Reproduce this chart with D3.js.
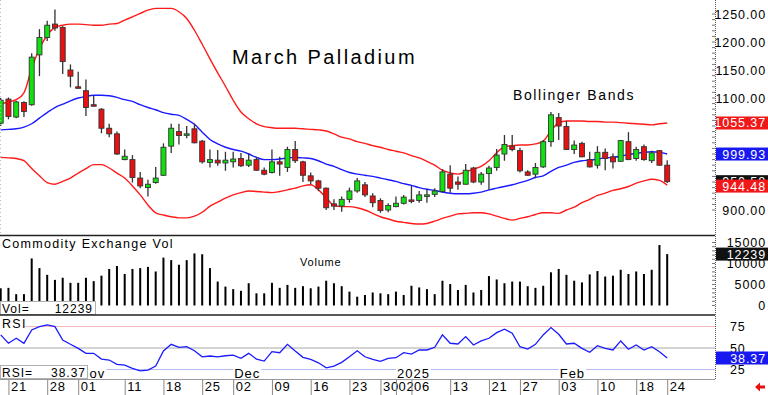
<!DOCTYPE html>
<html>
<head>
<meta charset="utf-8">
<script src="https://cdnjs.cloudflare.com/ajax/libs/d3/7.8.5/d3.min.js"></script>
<style>
  body { margin: 0; background: #fff; }
  svg { display: block; font-family: "Liberation Sans", Arial, sans-serif; }
</style>
</head>
<body>
<svg id="chart" width="768" height="395"></svg>
<script>
// trading days shown on the chart
var dates = [
  "2024-10-18","2024-10-21","2024-10-22","2024-10-23","2024-10-24","2024-10-25",
  "2024-10-28","2024-10-29","2024-10-30","2024-10-31","2024-11-01",
  "2024-11-04","2024-11-05","2024-11-06","2024-11-07","2024-11-08",
  "2024-11-11","2024-11-12","2024-11-13","2024-11-14","2024-11-15",
  "2024-11-18","2024-11-19","2024-11-20","2024-11-21","2024-11-22",
  "2024-11-25","2024-11-26","2024-11-27","2024-11-29",
  "2024-12-02","2024-12-03","2024-12-04","2024-12-05","2024-12-06",
  "2024-12-09","2024-12-10","2024-12-11","2024-12-12","2024-12-13",
  "2024-12-16","2024-12-17","2024-12-18","2024-12-19","2024-12-20",
  "2024-12-23","2024-12-24","2024-12-26","2024-12-27","2024-12-30","2024-12-31",
  "2025-01-02","2025-01-03","2025-01-06","2025-01-07","2025-01-08","2025-01-09","2025-01-10",
  "2025-01-13","2025-01-14","2025-01-15","2025-01-16","2025-01-17",
  "2025-01-21","2025-01-22","2025-01-23","2025-01-24",
  "2025-01-27","2025-01-28","2025-01-29","2025-01-30","2025-01-31",
  "2025-02-03","2025-02-04","2025-02-05","2025-02-06","2025-02-07",
  "2025-02-10","2025-02-11","2025-02-12","2025-02-13","2025-02-14",
  "2025-02-18","2025-02-19","2025-02-20","2025-02-21","2025-02-24"
];

var open  = [1055,1098,1066,1092,1088,1177,1208,1232,1226,1150,1120,1113,1088,1080,1046,1036,990,990,957,940,
             949,962,1014,1040,1035,1045,1023,985,989,984,986,992,980,990,971,967,986,976,1008,986,
             961,952,939,911,907,919,934,945,925,917,900,906,912,918,917,925,928,933,964,950,
             946,975,950,965,976,1000,1014,1006,968,964,977,1022,1065,1049,1008,1019,990,980,1003,995,
             987,1022,992,1013,988,1006,980];
var high  = [1100,1101,1095,1094,1180,1223,1238,1258,1228,1160,1147,1133,1104,1082,1054,1040,1008,998,968,954,
             977,1019,1054,1054,1050,1054,1025,1008,1007,1004,1004,1002,1001,995,976,1008,995,1013,1023,988,
             967,954,940,919,924,940,957,950,930,921,912,924,927,943,934,937,939,973,980,960,
             982,977,968,979,1009,1034,1034,1011,971,984,1025,1075,1073,1059,1024,1022,1004,1014,1010,1001,
             1025,1039,1013,1017,1006,1007,989];
var low   = [1050,1062,1064,1066,1086,1139,1202,1220,1143,1119,1117,1068,1085,1037,1030,998,989,949,939,924,
             947,961,1002,1017,1028,1019,983,976,979,970,976,977,977,970,962,965,961,968,984,950,
             946,934,900,900,897,913,931,923,905,895,896,905,910,912,913,913,923,931,931,936,
             945,948,945,936,970,988,1005,967,961,957,975,1013,1025,1007,1000,994,976,974,971,974,
             986,989,988,988,984,979,948];
var close = [1096,1067,1093,1076,1173,1208,1230,1225,1165,1139,1118,1083,1086,1046,1036,1000,996,958,943,946,
             957,1012,1046,1033,1036,1020,986,990,984,989,991,979,989,971,964,986,982,1008,988,962,
             952,939,904,907,919,934,952,927,913,899,908,912,923,916,927,927,934,968,939,946,
             971,950,964,975,998,1017,1008,970,962,976,1022,1070,1050,1008,1016,995,977,1003,992,986,
             1024,990,1008,990,1002,980,950.58];

var bbUpper = [1089,1093,1097,1109,1153,1188,1212,1226,1230,1232,1232,1231,1230,1230,1232,1233,1239,1245,1251,1257,
               1260,1260,1260,1254,1242,1221,1196,1170,1145,1121,1096,1075,1063,1054,1049,1047,1046,1046,1046,1045,
               1044,1043,1041,1036,1030,1027,1022,1019,1015,1012,1008,1005,1002,997,993,987,980,971,966,964,
               968,973,978,988,1002,1013,1015,1016,1016,1018,1023,1041,1056,1059,1059,1059,1058,1058,1057,1057,
               1056,1055,1054,1053,1052,1054,1055.37];
var bbMid   = [1043,1044,1045,1048,1054,1064,1074,1083,1089,1095,1100,1103,1105,1105,1104,1101,1097,1094,1088,1083,
               1079,1074,1071,1069,1062,1053,1039,1026,1018,1012,1008,1005,1000,994,990,990,991,993,994,993,
               992,988,982,978,972,967,964,962,960,957,954,951,947,944,940,937,935,932,930,929,
               929,930,932,936,939,942,945,949,953,958,961,969,976,980,985,988,989,991,993,994,
               996,999,1001,1003,1004,1003,999.93];
var bbLower = [994,993,992,988,974,961,949,946,951,957,966,974,981,981,975,966,957,943,927,909,
               895,891,888,886,886,889,896,907,914,921,927,931,934,933,932,931,933,936,939,943,
               945,936,922,908,906,906,904,900,894,888,884,880,878,876,875,876,880,885,889,893,
               894,895,895,893,889,885,882,885,888,892,895,895,894,900,905,913,919,926,930,935,
               938,942,948,952,955,953,944.48];

var volume = [4100,4200,2700,2700,11200,8900,7300,6100,6600,5400,5400,6600,5800,7100,8700,9400,7500,8700,8900,9200,
              8100,11400,10800,9700,10800,12400,12200,8900,5700,4500,3900,3500,5300,2900,2900,5400,4200,4900,4200,4600,
              4100,4500,5900,5300,4600,3300,2100,2500,3100,2900,2700,3300,2500,4700,4300,3900,2700,5900,5100,3700,
              4900,3100,3700,7000,6200,5300,5700,5700,4600,4200,4700,7900,8700,7300,5900,5500,7400,8200,6900,7100,
              8500,7500,8100,7500,8500,14400,12239];

var rsi = [65.2,55.5,61.3,55.5,71,74.9,76.9,74.9,59.3,54.3,49.6,43.8,43.8,37.1,36,31,30.1,26.3,23.5,24.3,
           29,46.5,54.3,50.8,51.5,46.8,39.8,40.7,39.8,41,41.8,38,43.8,37.1,34.8,45.7,44.5,54.3,46.5,39.1,
           36.8,32.8,27,29,33.3,39.8,46.8,39.8,36.8,34.5,38,38.7,44.5,43,47.7,47.7,50.8,65.2,55.5,54.7,
           63.2,53.5,58.2,61.3,67.9,71.8,67.2,51.5,48.8,54.3,65.2,73.7,66,54.7,55.5,49.6,45,52.7,49.6,47.7,
           58.2,48.5,53.5,47.7,51.5,45.7,38.37];

var dayTicks = ["2024-10-21","2024-10-28","2024-11-01","2024-11-11","2024-11-18","2024-11-25",
                "2024-12-02","2024-12-09","2024-12-16","2024-12-23","2024-12-30","2025-01-02",
                "2025-01-06","2025-01-13","2025-01-21","2025-01-27","2025-02-03","2025-02-10",
                "2025-02-18","2025-02-24"];
var monthTicks = [["2024-11-01","Nov"],["2024-12-02","Dec"],["2025-01-02","2025"],["2025-02-03","Feb"]];
var priceLabels = [900,1100,1150,1200,1250];
var volTicks = [0,5000,10000,15000];
var rsiTicks = [25,50,75];

var svg = d3.select("#chart");
var W = 715;

var x = d3.scalePoint().domain(dates).range([0.7, 667.2]);
var yP = d3.scaleLinear().domain([900, 1250]).range([210, 14]);
var yV = d3.scaleLinear().domain([0, 15000]).range([305.5, 242.5]);
var yR = d3.scaleLinear().domain([25, 75]).range([369.5, 326.5]);

svg.append("defs").append("clipPath").attr("id", "pclip")
   .append("rect").attr("x", 0).attr("y", 0).attr("width", W).attr("height", 235);

// ---- price panel ----
var price = svg.append("g").attr("clip-path", "url(#pclip)");

price.append("text").attr("x", 232).attr("y", 64)
     .attr("font-size", 20).attr("letter-spacing", 2.4).attr("fill", "#000")
     .text("March Palladium");
price.append("text").attr("x", 513).attr("y", 100)
     .attr("font-size", 14).attr("letter-spacing", 1.6).attr("fill", "#000")
     .text("Bollinger Bands");

function bandLine(arr) {
  return d3.line()
    .x(function(d, i) { return x(dates[i]); })
    .y(function(d) { return yP(d); })
    .curve(d3.curveMonotoneX)(arr);
}
price.append("path").attr("d", bandLine(bbUpper)).attr("fill", "none").attr("stroke", "#ff1a1a").attr("stroke-width", 1.4);
price.append("path").attr("d", bandLine(bbLower)).attr("fill", "none").attr("stroke", "#ff1a1a").attr("stroke-width", 1.4);
price.append("path").attr("d", bandLine(bbMid)).attr("fill", "none").attr("stroke", "#1a1aff").attr("stroke-width", 1.4);

var candles = price.selectAll("g.candle").data(dates).enter().append("g").attr("class", "candle");
candles.append("line")
  .attr("x1", function(d) { return x(d); }).attr("x2", function(d) { return x(d); })
  .attr("y1", function(d, i) { return yP(high[i]); })
  .attr("y2", function(d, i) { return yP(low[i]); })
  .attr("stroke", "#333").attr("stroke-width", 1.3);
candles.append("rect")
  .attr("x", function(d) { return x(d) - 2.5; })
  .attr("width", 5)
  .attr("y", function(d, i) { return yP(Math.max(open[i], close[i])); })
  .attr("height", function(d, i) { return Math.max(1.5, Math.abs(yP(open[i]) - yP(close[i]))); })
  .attr("fill", function(d, i) { return close[i] >= open[i] ? "#11e011" : "#e81010"; })
  .attr("stroke", "#333").attr("stroke-width", 0.9);

// ---- volume panel ----
var vol = svg.append("g");
vol.selectAll("rect.vol").data(dates).enter().append("rect")
   .attr("x", function(d) { return x(d) - 1; })
   .attr("width", 2)
   .attr("y", function(d, i) { return yV(volume[i]); })
   .attr("height", function(d, i) { return yV(0) - yV(volume[i]); })
   .attr("fill", "#000");
vol.append("text").attr("x", 2).attr("y", 248).attr("font-size", 12.5).attr("letter-spacing", 1.3)
   .text("Commodity Exchange Vol");
vol.append("text").attr("x", 300).attr("y", 266).attr("font-size", 11).attr("letter-spacing", 0.8)
   .text("Volume");
vol.append("rect").attr("x", 0.5).attr("y", 301.5).attr("width", 95).attr("height", 13)
   .attr("fill", "#fff").attr("stroke", "#b0b0b0");
vol.append("text").attr("x", 2).attr("y", 312.5).attr("font-size", 12).attr("letter-spacing", 1).text("Vol=");
vol.append("text").attr("x", 93).attr("y", 312.5).attr("font-size", 12).attr("letter-spacing", 1)
   .attr("text-anchor", "end").text(volume[volume.length - 1]);

// ---- RSI panel ----
var rp = svg.append("g");
rp.append("line").attr("x1", 25).attr("x2", W).attr("y1", yR(75)).attr("y2", yR(75)).attr("stroke", "#f6b8b8");
rp.append("line").attr("x1", 0).attr("x2", W).attr("y1", yR(50)).attr("y2", yR(50)).attr("stroke", "#a8a8a8");
rp.append("line").attr("x1", 0).attr("x2", W).attr("y1", yR(25)).attr("y2", yR(25)).attr("stroke", "#b8b8f4");
rp.append("path")
  .attr("d", d3.line().x(function(d, i) { return x(dates[i]); }).y(function(d) { return yR(d); })(rsi))
  .attr("fill", "none").attr("stroke", "#1a1aff").attr("stroke-width", 1.3);
rp.append("text").attr("x", 2).attr("y", 328).attr("font-size", 12.5).attr("letter-spacing", 1.3).text("RSI");

// month names sit on the 25 line with a white patch behind them
monthTicks.forEach(function(m) {
  var t = rp.append("text").attr("x", x(m[0]) + 1).attr("y", 377.5)
            .attr("font-size", 13).attr("letter-spacing", 1).text(m[1]);
  var bb = t.node().getBBox();
  rp.insert("rect", "text").attr("x", bb.x - 1).attr("y", 368).attr("width", bb.width + 2).attr("height", 9)
    .attr("fill", "#fff");
});
rp.append("rect").attr("x", 0.5).attr("y", 365.5).attr("width", 87).attr("height", 13)
  .attr("fill", "#fff").attr("stroke", "#b0b0b0");
rp.append("text").attr("x", 2).attr("y", 376.5).attr("font-size", 12).attr("letter-spacing", 1).text("RSI=");
rp.append("text").attr("x", 86).attr("y", 376.5).attr("font-size", 12).attr("letter-spacing", 1)
  .attr("text-anchor", "end").text(d3.format(".2f")(rsi[rsi.length - 1]));

// ---- panel borders ----
svg.append("line").attr("x1", 0).attr("x2", W).attr("y1", 235.5).attr("y2", 235.5).attr("stroke", "#222").attr("stroke-width", 1.6);
svg.append("line").attr("x1", 0).attr("x2", W).attr("y1", 315).attr("y2", 315).attr("stroke", "#222").attr("stroke-width", 1.6);
svg.append("line").attr("x1", 0).attr("x2", W).attr("y1", 379.5).attr("y2", 379.5).attr("stroke", "#999");
svg.append("line").attr("x1", W + 0.5).attr("x2", W + 0.5).attr("y1", 0).attr("y2", 380)
   .attr("stroke", "#555").attr("stroke-dasharray", "1,1");
svg.append("line").attr("x1", 0.5).attr("x2", 0.5).attr("y1", 0).attr("y2", 235)
   .attr("stroke", "#bbb").attr("stroke-dasharray", "1,3");

// ---- x axis ----
var xAxis = d3.axisBottom(x).tickValues(dayTicks).tickSize(16).tickPadding(0)
  .tickFormat(function(d) { return d.slice(8); });
var gx = svg.append("g").attr("transform", "translate(0,379.5)").call(xAxis);
gx.select(".domain").remove();
gx.selectAll(".tick line").attr("stroke", "#888");
gx.selectAll(".tick text").attr("text-anchor", "start").attr("x", 2).attr("y", 2)
  .attr("font-size", 13).attr("letter-spacing", 0.8).attr("fill", "#000")
  .attr("font-family", "Liberation Sans, Arial, sans-serif");

// ---- right axes ----
function rightAxis(scale, vals, fmt, anchor, tx) {
  var g = svg.append("g").attr("transform", "translate(" + W + ",0)")
    .call(d3.axisRight(scale).tickValues(vals).tickSize(0).tickFormat(fmt));
  g.select(".domain").remove();
  g.selectAll("text").attr("text-anchor", anchor).attr("x", tx)
    .attr("font-size", 12.5).attr("letter-spacing", 0.9).attr("fill", "#000")
    .attr("font-family", "Liberation Sans, Arial, sans-serif");
  return g;
}
rightAxis(yP, priceLabels, d3.format(".2f"), "end", 51);
rightAxis(yV, volTicks, d3.format("d"), "end", 51);
rightAxis(yR, rsiTicks, d3.format("d"), "start", 15);

// minor ticks along the right edge
svg.append("g").selectAll("line").data(yP.ticks(35)).enter().append("line")
  .attr("x1", W - 3).attr("x2", W).attr("y1", function(d) { return yP(d); }).attr("y2", function(d) { return yP(d); })
  .attr("stroke", "#777");
svg.append("g").selectAll("line").data(yV.ticks(15)).enter().append("line")
  .attr("x1", W - 3).attr("x2", W).attr("y1", function(d) { return yV(d); }).attr("y2", function(d) { return yV(d); })
  .attr("stroke", "#777");

// ---- last value flags ----
function flag(yy, txt, bg) {
  svg.append("rect").attr("x", W + 1).attr("y", yy - 6.5).attr("width", 768 - W - 1).attr("height", 13).attr("fill", bg);
  svg.append("text").attr("x", 766).attr("y", yy + 4.5).attr("text-anchor", "end")
     .attr("font-size", 12.5).attr("letter-spacing", 0.9).attr("fill", "#fff").text(txt);
}
var f2 = d3.format(".2f");
var n = dates.length - 1;
flag(yP(bbUpper[n]), f2(bbUpper[n]), "#f01818");
flag(yP(bbMid[n]), f2(bbMid[n]), "#1818f0");
flag(yP(close[n]), f2(close[n]), "#111");
flag(yP(bbLower[n]) + 1, f2(bbLower[n]), "#f01818");
flag(yV(volume[n]), volume[n], "#111");
flag(yR(rsi[n]), f2(rsi[n]), "#1818f0");

// little red arrow bottom right
svg.append("path").attr("d", "M755,387 L760,382.5 L760,385.5 L765,385.5 L765,388.5 L760,388.5 L760,391.5 Z")
   .attr("fill", "#e81010");
</script>
</body>
</html>
